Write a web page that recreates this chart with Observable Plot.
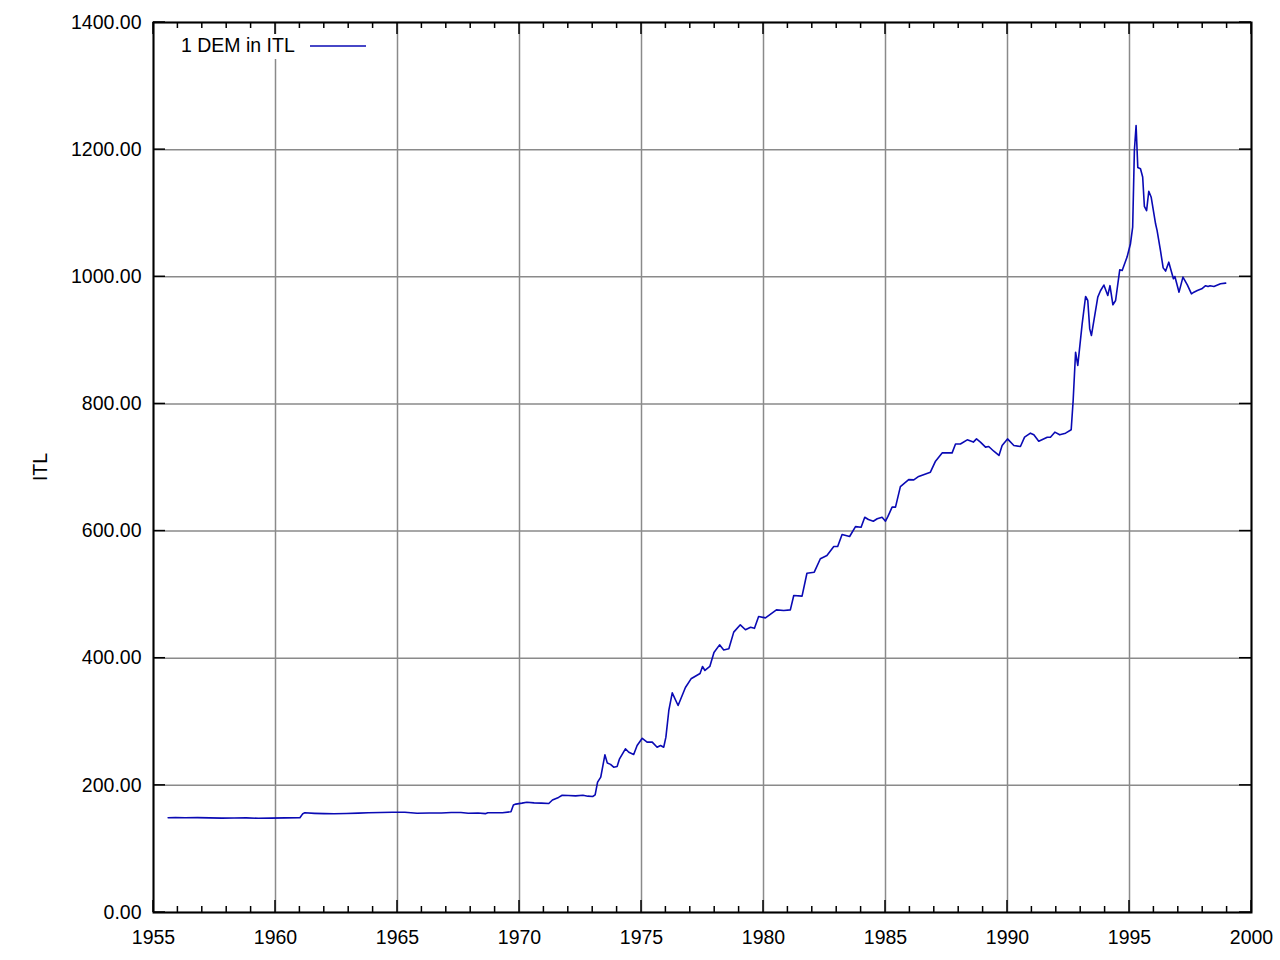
<!DOCTYPE html>
<html>
<head>
<meta charset="utf-8">
<script src="https://cdn.jsdelivr.net/npm/d3@7"></script>
<script src="https://cdn.jsdelivr.net/npm/@observablehq/plot@0.6"></script>
<style>
  html, body { margin: 0; padding: 0; background: white; }
  #wrap { position: relative; width: 1280px; height: 960px; }
  #legend { position: absolute; left: 170px; top: 34px; width: 205px; height: 25px; background: white; }
</style>
</head>
<body>
<div id="wrap"></div>
<script>
const seriesName = "1 DEM in ITL";
const yLabel = "ITL";
const xMajorTicks = [1955, 1960, 1965, 1970, 1975, 1980, 1985, 1990, 1995, 2000];
const xMinorTicks = d3.range(1956, 2000).filter(v => v % 5 !== 0);
const yTicks = [0, 200, 400, 600, 800, 1000, 1200, 1400];

const years = [
  1955.6, 1955.9, 1956.3, 1956.8, 1957.3, 1957.8, 1958.3, 1958.8, 1959.3, 1959.8,
  1960.4, 1961.0, 1961.12, 1961.2, 1961.6, 1962.0, 1962.4, 1962.9, 1963.4, 1963.8,
  1964.3, 1964.8, 1965.3, 1965.8, 1966.3, 1966.8, 1967.2, 1967.6, 1967.9, 1968.3,
  1968.6, 1968.7, 1969.0, 1969.3, 1969.65, 1969.75, 1969.85, 1970.1, 1970.3, 1970.6,
  1970.9, 1971.2, 1971.35, 1971.6, 1971.75, 1972.0, 1972.3, 1972.6, 1972.8, 1973.0,
  1973.1, 1973.2, 1973.33, 1973.5, 1973.6, 1973.73, 1973.86, 1974.0, 1974.1, 1974.34,
  1974.48, 1974.68, 1974.82, 1975.03, 1975.23, 1975.44, 1975.64, 1975.78, 1975.91, 1976.0,
  1976.12, 1976.26, 1976.5, 1976.8, 1977.03, 1977.4, 1977.5, 1977.6, 1977.8, 1977.97,
  1978.2, 1978.37, 1978.58, 1978.78, 1979.05, 1979.26, 1979.47, 1979.63, 1979.8, 1980.08,
  1980.53, 1980.83, 1981.1, 1981.24, 1981.58, 1981.78, 1982.08, 1982.33, 1982.6, 1982.88,
  1983.04, 1983.22, 1983.53, 1983.77, 1984.0, 1984.15, 1984.3, 1984.5, 1984.66, 1984.86,
  1985.0, 1985.1, 1985.27, 1985.41, 1985.61, 1985.95, 1986.16, 1986.36, 1986.84, 1987.05,
  1987.32, 1987.73, 1987.87, 1988.07, 1988.35, 1988.6, 1988.73, 1988.89, 1989.1, 1989.23,
  1989.44, 1989.65, 1989.78, 1990.0, 1990.26, 1990.53, 1990.7, 1990.94, 1991.08, 1991.28,
  1991.63, 1991.76, 1991.94, 1992.14, 1992.38, 1992.61, 1992.69, 1992.79, 1992.88, 1993.06,
  1993.2, 1993.29, 1993.37, 1993.44, 1993.7, 1993.81, 1993.95, 1994.11, 1994.2, 1994.32,
  1994.43, 1994.6, 1994.7, 1994.9, 1995.04, 1995.13, 1995.2, 1995.27, 1995.34, 1995.45,
  1995.54, 1995.61, 1995.7, 1995.79, 1995.89, 1996.07, 1996.13, 1996.27, 1996.38, 1996.48,
  1996.61, 1996.8, 1996.86, 1997.03, 1997.19, 1997.37, 1997.54, 1997.64, 1997.78, 1997.96,
  1998.12, 1998.22, 1998.3, 1998.46, 1998.73, 1998.94
];
const rates = [
  149, 149.5, 149, 149.3, 148.8, 148.5, 148.7, 148.9, 148.2, 148.4,
  148.8, 149, 155.5, 156.8, 156, 155.5, 155.3, 155.8, 156.3, 156.8,
  157.3, 157.8, 157.8, 156.2, 156.5, 156.6, 157.3, 157.3, 156.2, 156.4,
  155.5, 157, 156.8, 157, 158.5, 169, 170.5, 172, 173.5, 172.5,
  172, 171.5, 177, 181, 184.5, 184, 183.5, 184.5, 183, 182.5,
  185, 205, 213, 248, 235, 233, 228.6, 229.7, 241.8, 257.5,
  252, 248.5, 262.7, 274, 268, 268, 260, 262.7, 260, 275.8,
  317.8, 345.6, 325.6, 354, 367.6, 376, 387, 380.7, 387, 409,
  421, 413, 414.8, 441, 452.5, 444.7, 448.8, 447, 465.6, 463.5,
  476, 475, 476, 498.6, 497.6, 533.7, 535.3, 556.4, 561.6, 575.7,
  575.7, 594.6, 591.5, 607, 606, 621.8, 618.2, 615.5, 619.3, 621.8,
  615.5, 623, 637.6, 637.6, 670, 681, 680.6, 686, 692.6, 710,
  723, 723, 737, 737, 743.5, 740, 745, 740, 732, 733,
  725.6, 719, 734.6, 745, 734.6, 733, 747.7, 754, 751.4, 741.4,
  747.7, 747.7, 755.6, 751.4, 754, 759.3, 805, 881.4, 860.5, 926,
  969, 962.7, 918, 907.7, 968, 978, 987, 970.6, 986, 956,
  962.7, 1011, 1010, 1031, 1052, 1078, 1198.7, 1238, 1172, 1170,
  1157, 1110.6, 1104, 1134.6, 1125, 1083, 1073, 1041, 1014, 1009,
  1023, 997, 1000.4, 975.8, 999.5, 987.4, 973.2, 975.8, 978.4, 981,
  986, 984.7, 986, 984.7, 989, 990
];

const data = years.map((t, i) => ({year: t, value: rates[i]}));
const lineColor = "#0a0ab4";
const fontFamily = "'Liberation Sans', Arial, Helvetica, sans-serif";
const fs = 19.5;

function decorations(index, scales, values, dimensions) {
  const {x, y} = scales;
  const {width, height, marginLeft, marginRight, marginTop, marginBottom} = dimensions;
  const left = marginLeft, right = width - marginRight, top = marginTop, bottom = height - marginBottom;
  const g = d3.create("svg:g").attr("stroke", "black").attr("stroke-width", 1.5).attr("fill", "none");
  const tick = (x1, y1, x2, y2) => g.append("line").attr("x1", x1).attr("y1", y1).attr("x2", x2).attr("y2", y2);
  for (const t of xMajorTicks) { const px = x(t); tick(px, bottom, px, bottom - 12); tick(px, top, px, top + 12); }
  for (const t of xMinorTicks) { const px = x(t); tick(px, bottom, px, bottom - 6); tick(px, top, px, top + 6); }
  for (const v of yTicks) { const py = y(v); tick(left, py, left + 12, py); tick(right, py, right - 12, py); }
  g.append("text")
    .attr("stroke", "none").attr("fill", "black")
    .attr("text-anchor", "middle")
    .attr("transform", `translate(47,${(top + bottom) / 2}) rotate(-90)`)
    .attr("font-size", fs)
    .text(yLabel);
  return g.node();
}

const chart = Plot.plot({
  width: 1280,
  height: 960,
  marginLeft: 153,
  marginRight: 29,
  marginTop: 22,
  marginBottom: 48,
  style: {fontFamily, fontSize: fs + "px", background: "white", color: "black"},
  x: {domain: [1955, 2000]},
  y: {domain: [0, 1400]},
  marks: [
    Plot.gridX(xMajorTicks, {stroke: "#8a8a8a", strokeOpacity: 1, strokeWidth: 1.5}),
    Plot.gridY(yTicks, {stroke: "#8a8a8a", strokeOpacity: 1, strokeWidth: 1.5}),
    Plot.axisX(xMajorTicks, {tickSize: 0, tickPadding: 18, tickFormat: d => String(d), label: null, fontSize: fs}),
    Plot.axisY(yTicks, {tickSize: 0, tickPadding: 12, tickFormat: d3.format(".2f"), label: null, fontSize: fs}),
    Plot.line(data, {x: "year", y: "value", stroke: lineColor, strokeWidth: 1.6}),
    Plot.frame({stroke: "black", strokeWidth: 2}),
    decorations
  ]
});

const wrap = document.getElementById("wrap");
wrap.appendChild(chart);

const legend = document.createElement("div");
legend.id = "legend";
legend.innerHTML = `<svg width="205" height="25" style="display:block">
  <text x="11" y="18" font-family="${fontFamily}" font-size="${fs}" fill="black">${seriesName}</text>
  <line x1="140" x2="196" y1="12" y2="12" stroke="${lineColor}" stroke-width="1.6"></line>
</svg>`;
wrap.appendChild(legend);
</script>
</body>
</html>
